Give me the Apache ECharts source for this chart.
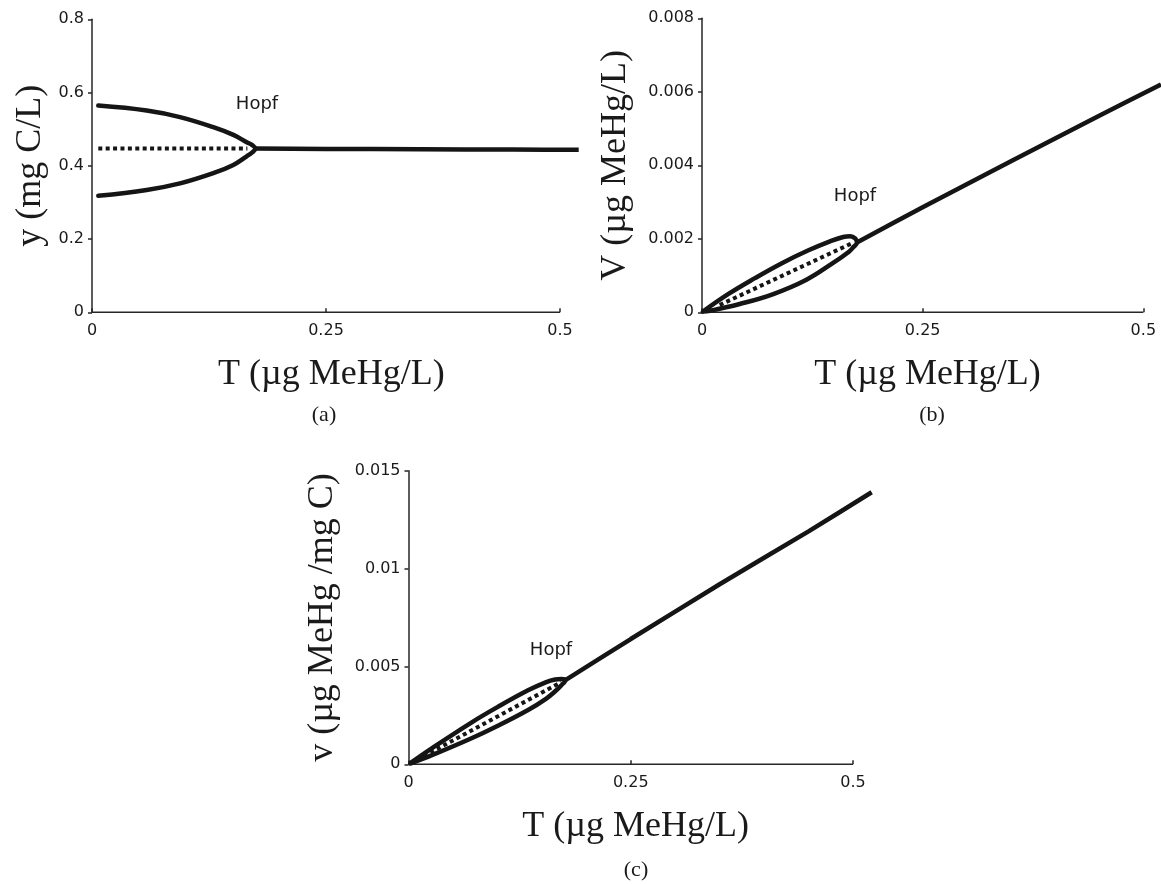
<!DOCTYPE html>
<html>
<head>
<meta charset="utf-8">
<script src="https://cdn.jsdelivr.net/npm/echarts@6/dist/echarts.min.js"></script>
<style>
  html, body { margin: 0; background: #fff; }
  #main { width: 1161px; height: 884px; }
</style>
</head>
<body>
<div id="main"></div>
<script>
// (a) y (mg C/L) vs T : periodic-orbit extremes, unstable and stable equilibria
let aUpperT = [0.0067, 0.0584, 0.094, 0.1296, 0.151, 0.1653, 0.1712, 0.1745];
let aUpperY = [0.5645, 0.551, 0.533, 0.5055, 0.4844, 0.4645, 0.4565, 0.447];
let aLowerT = [0.1712, 0.1653, 0.151, 0.1296, 0.094, 0.0584, 0.0067];
let aLowerY = [0.4365, 0.426, 0.4025, 0.380, 0.352, 0.334, 0.318];
let aUnstT = [0.0067, 0.166];
let aUnstY = [0.447, 0.447];
let aStableT = [0.1745, 0.25, 0.35, 0.45, 0.52];
let aStableY = [0.447, 0.4462, 0.4452, 0.4443, 0.4435];

// (b) V (ug MeHg/L) vs T
let bUpperT = [0.001, 0.03, 0.06, 0.09, 0.12, 0.145, 0.16, 0.168, 0.1735, 0.1755];
let bUpperY = [0.00002, 0.0005, 0.00093, 0.00133, 0.00168, 0.00193, 0.00205, 0.00207, 0.00201, 0.0019];
let bLowerT = [0.171, 0.1665, 0.1477, 0.1178, 0.080, 0.0427, 0.009, 0.001];
let bLowerY = [0.00176, 0.00165, 0.00133, 0.00088, 0.00049, 0.000226, 0.00004, 0.00002];
let bUnstT = [0.02, 0.17];
let bUnstY = [0.0002, 0.00188];
let bStableT = [0.1755, 0.25, 0.35, 0.45, 0.52];
let bStableY = [0.0019, 0.00286, 0.00411, 0.00535, 0.0062];

// (c) v (ug MeHg/mg C) vs T
let cUpperT = [0.002, 0.027, 0.0703, 0.10, 0.135, 0.155, 0.165, 0.172, 0.1765];
let cUpperY = [0.00006, 0.00084, 0.00212, 0.00292, 0.00379, 0.0042, 0.00433, 0.00436, 0.0043];
let cLowerT = [0.172, 0.165, 0.155, 0.135, 0.10, 0.0703, 0.027, 0.002];
let cLowerY = [0.00404, 0.00373, 0.00336, 0.00279, 0.00196, 0.00132, 0.00048, 0.00004];
let cUnstT = [0.0099, 0.1716];
let cUnstY = [0.00024, 0.00419];
let cStableT = [0.1765, 0.25, 0.35, 0.45, 0.521];
let cStableY = [0.0043, 0.0064, 0.0092, 0.0119, 0.0139];

let xTicks = [0, 0.25, 0.5];
let xMax = 0.52;
let yMax = [0.8, 0.008, 0.015];
let yStep = [0.2, 0.002, 0.005];
let xTitle = 'T (\u00b5g MeHg/L)';
let yTitles = ['y (mg C/L)', 'V (\u00b5g MeHg/L)', 'v (\u00b5g MeHg /mg C)'];
let captions = ['(a)', '(b)', '(c)'];

const INK = '#151515';
const AXIS = '#262626';
const SERIF = '"Liberation Serif", "Times New Roman", serif';
const SANS = '"DejaVu Sans", sans-serif';

function pairs(xs, ys) {
    return xs.map((x, i) => [x, ys[i]]);
}

// px per unit of T differs a little between panels
let grids = [
    {left: 92, top: 19.3, width: 936 * xMax, height: 293},
    {left: 702, top: 18.3, width: 889 * xMax, height: 294},
    {left: 408.5, top: 470.7, width: 889 * xMax, height: 293.6}
];
let yNameGap = [43, 68, 68];

let panels = [
    {upper: pairs(aUpperT, aUpperY), lower: pairs(aLowerT, aLowerY), unst: pairs(aUnstT, aUnstY), stable: pairs(aStableT, aStableY)},
    {upper: pairs(bUpperT, bUpperY), lower: pairs(bLowerT, bLowerY), unst: pairs(bUnstT, bUnstY), stable: pairs(bStableT, bStableY)},
    {upper: pairs(cUpperT, cUpperY), lower: pairs(cLowerT, cLowerY), unst: pairs(cUnstT, cUnstY), stable: pairs(cStableT, cStableY)}
];

let xAxes = [], yAxes = [], series = [];

panels.forEach((p, i) => {
    xAxes.push({
        type: 'value', gridIndex: i, min: 0, max: xMax,
        name: xTitle, nameLocation: 'middle', nameGap: 44,
        nameTextStyle: {fontFamily: SERIF, fontSize: 36, color: '#1a1a1a', padding: [0, 8, 0, 0]},
        axisLine: {show: false},
        axisTick: {inside: true, length: 4, customValues: xTicks, lineStyle: {color: AXIS, width: 1.5}},
        axisLabel: {fontFamily: SANS, fontSize: 16, color: '#1a1a1a', margin: 11, customValues: xTicks},
        splitLine: {show: false}
    });
    yAxes.push({
        type: 'value', gridIndex: i, min: 0, max: yMax[i], interval: yStep[i],
        name: yTitles[i], nameLocation: 'middle', nameGap: yNameGap[i],
        nameTextStyle: {fontFamily: SERIF, fontSize: 36, color: '#1a1a1a'},
        axisLine: {show: true, lineStyle: {color: AXIS, width: 1.5}},
        axisTick: {show: true, length: 4, lineStyle: {color: AXIS, width: 1.5}},
        axisLabel: {fontFamily: SANS, fontSize: 16, color: '#1a1a1a', margin: 8},
        splitLine: {show: false}
    });
    let common = {type: 'line', xAxisIndex: i, yAxisIndex: i, showSymbol: false, silent: true, animation: false, clip: false};
    // x axis line only runs 0 .. 0.5, like the tick range
    series.push(Object.assign({}, common, {
        data: [[xTicks[0], 0], [xTicks[xTicks.length - 1], 0]],
        lineStyle: {color: AXIS, width: 1.5}
    }));
    series.push(Object.assign({}, common, {
        data: p.upper.concat(p.lower), smooth: 0.4,
        lineStyle: {color: INK, width: 4.5, cap: 'round', join: 'round'}
    }));
    series.push(Object.assign({}, common, {
        data: p.unst,
        lineStyle: {color: INK, width: 4, type: [4, 3.4], cap: 'butt'}
    }));
    series.push(Object.assign({}, common, {
        data: p.stable, smooth: 0.2,
        lineStyle: {color: INK, width: 4.5, cap: 'butt'}
    }));
});

function txt(s, x, y, font, size) {
    return {
        type: 'text', x: x, y: y, silent: true,
        style: {text: s, fill: '#1a1a1a', font: size + 'px ' + font,
                align: 'center', verticalAlign: 'middle', textAlign: 'center', textVerticalAlign: 'middle'}
    };
}

let graphics = [
    txt('Hopf', 257, 104, SANS, 18),
    txt('Hopf', 855, 196, SANS, 18),
    txt('Hopf', 551, 650, SANS, 18),
    txt(captions[0], 324, 415, SERIF, 22),
    txt(captions[1], 932, 415, SERIF, 22),
    txt(captions[2], 636, 870, SERIF, 22)
];

let chart = echarts.init(document.getElementById('main'), null, {renderer: 'canvas'});
chart.setOption({
    backgroundColor: '#fff',
    animation: false,
    grid: grids,
    xAxis: xAxes,
    yAxis: yAxes,
    series: series,
    graphic: graphics
});
</script>
</body>
</html>
